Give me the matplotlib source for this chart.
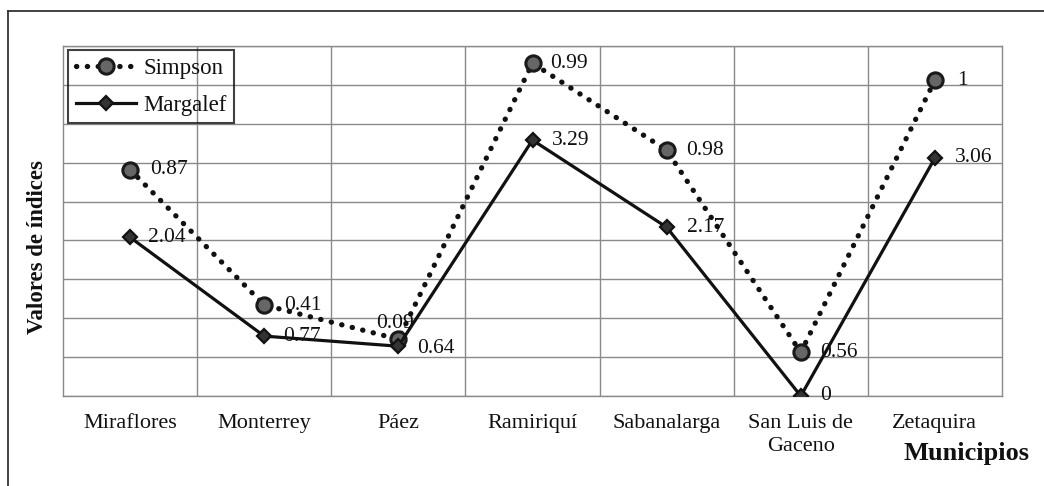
import matplotlib
matplotlib.use("Agg")
import matplotlib.pyplot as plt
from matplotlib.lines import Line2D
import numpy as np

plt.rcParams['font.family'] = ['Liberation Serif', 'DejaVu Serif']

municipios = ["Miraflores", "Monterrey", "Páez", "Ramiriquí", "Sabanalarga",
              "San Luis de\nGaceno", "Zetaquira"]
# Simpson: plotted height (as drawn on the shared axis) and its data label
simpson_pos = [2.91, 1.17, 0.73, 4.28, 3.16, 0.56, 4.06]
simpson_lbl = ["0.87", "0.41", "0.09", "0.99", "0.98", "0.56", "1"]
margalef = [2.04, 0.77, 0.64, 3.29, 2.17, 0.0, 3.06]
margalef_lbl = ["2.04", "0.77", "0.64", "3.29", "2.17", "0", "3.06"]

W, H = 1044, 486
fig = plt.figure(figsize=(W / 100, H / 100), dpi=100)
ax = fig.add_axes([63 / W, 1 - 396 / H, (1002 - 63) / W, (396 - 46) / H])

x = np.arange(len(municipios))
ax.set_xlim(-0.5, len(municipios) - 0.5)
ax.set_ylim(0, 4.5)

grid_c = '#8a8a8a'
ax.set_yticks(np.arange(0, 4.51, 0.5))
ax.set_yticklabels([])
ax.set_xticks(x)
ax.set_xticks(np.arange(0.5, len(municipios) - 0.5, 1), minor=True)
ax.tick_params(axis='both', which='both', length=0)
ax.grid(True, axis='y', which='major', color=grid_c, lw=1)
ax.grid(True, axis='x', which='minor', color=grid_c, lw=1)
ax.grid(False, axis='x', which='major')
for s in ax.spines.values():
    s.set_color(grid_c)
    s.set_linewidth(1)
ax.set_xticklabels(municipios, fontsize=16, color='#111', linespacing=1.3)
ax.tick_params(axis='x', pad=13)
ax.set_axisbelow(True)

l_simp, = ax.plot(x, simpson_pos, linestyle=(0, (0.05, 2.0)), lw=3.8,
                  dash_capstyle='round', color='#111', marker='o', ms=11,
                  mfc='#666666', mec='#1a1a1a', mew=2.2, zorder=3, label='Simpson')
l_marg, = ax.plot(x, margalef, linestyle='-', lw=2.3, color='#111', marker='D', ms=7.5,
                  mfc='#333', mec='#111', mew=1.6, zorder=4, label='Margalef')

offs_s = [(20, 0), (20, 0), (-22, 16), (18, 0), (19, 0), (19, 0), (22, 0)]
offs_m = [(18, 0), (19, 0), (19, -2), (19, 0), (20, 0), (19, 0), (20, 0)]
for xi, yi, t, o in zip(x, simpson_pos, simpson_lbl, offs_s):
    ax.annotate(t, (xi, yi), xytext=o, textcoords='offset pixels', ha='left',
                va='center', fontsize=15.5, color='#111', zorder=5)
for xi, yi, t, o in zip(x, margalef, margalef_lbl, offs_m):
    ax.annotate(t, (xi, yi), xytext=o, textcoords='offset pixels', ha='left',
                va='center', fontsize=15.5, color='#111', zorder=5, annotation_clip=False)

leg = ax.legend(handles=[l_simp, l_marg], loc='upper left',
                bbox_to_anchor=(68 / W, 1 - 50 / H), bbox_transform=fig.transFigure,
                fontsize=16.5, frameon=True, fancybox=False, numpoints=1,
                handlelength=2.65, handletextpad=0.3, labelspacing=0.7,
                borderpad=0.33, borderaxespad=0)
fr = leg.get_frame()
fr.set_edgecolor('#111')
fr.set_linewidth(1.5)
fr.set_facecolor('none')
for t in leg.get_texts():
    t.set_color('#111')

fig.text(38 / W, 1 - 247 / H, "Valores de índices", rotation=90, ha='center',
         va='center', fontsize=16.5, fontweight='bold', color='#111')
fig.text(967 / W, 1 - 453 / H, "Municipios", ha='center', va='center',
         fontsize=19, fontweight='bold', color='#111')

# outer frame (top and left)
fig.add_artist(Line2D([8 / W, 1], [1 - 11 / H, 1 - 11 / H], transform=fig.transFigure,
                      color='#333', lw=1.3))
fig.add_artist(Line2D([8 / W, 8 / W], [0, 1 - 11 / H], transform=fig.transFigure,
                      color='#333', lw=1.3))

fig.savefig("out.png", dpi=100)
